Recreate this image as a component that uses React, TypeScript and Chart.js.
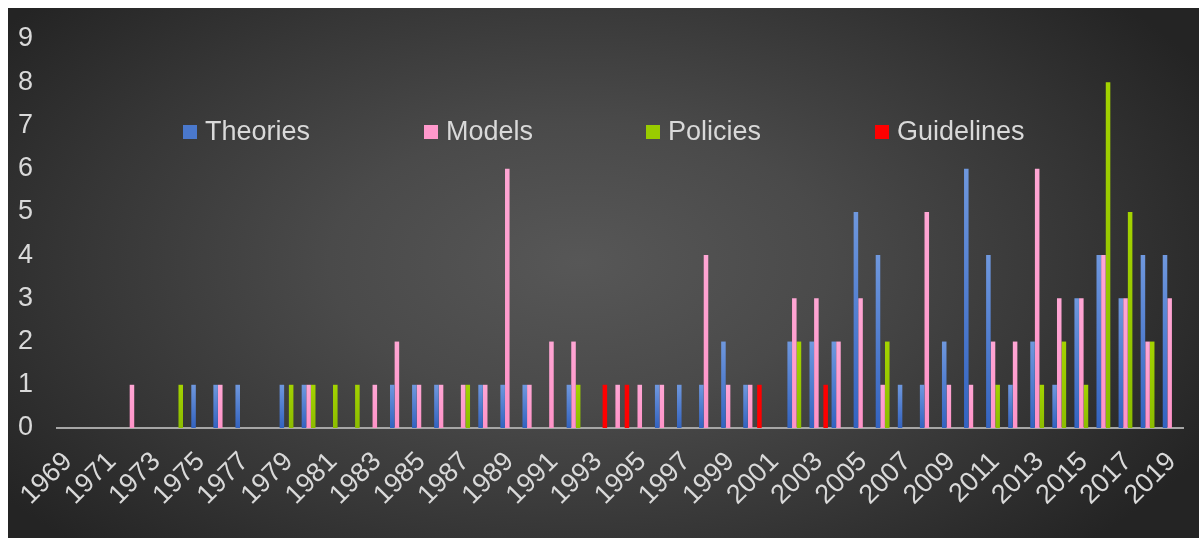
import React, { useEffect, useRef } from "react";
import { Chart, registerables } from "chart.js";

Chart.register(...registerables);

// Publication years, one category per year
const years: string[] = [];
for (let y = 1969; y <= 2019; y++) years.push(String(y));

// Counts per year, 1969 → 2019
const theories = [
  0, 0, 0, 0, 0, 0, 1, 1, 1, 0,
  1, 1, 0, 0, 0, 1, 1, 1, 0, 1,
  1, 1, 0, 1, 0, 0, 0, 1, 1, 1,
  2, 1, 0, 2, 2, 2, 5, 4, 1, 1,
  2, 6, 4, 1, 2, 1, 3, 4, 3, 4,
  4,
];
const models = [
  0, 0, 0, 1, 0, 0, 0, 1, 0, 0,
  0, 1, 0, 0, 1, 2, 1, 1, 1, 1,
  6, 1, 2, 2, 0, 1, 1, 1, 0, 4,
  1, 1, 0, 3, 3, 2, 3, 1, 0, 5,
  1, 1, 2, 2, 6, 3, 3, 4, 3, 2,
  3,
];
const policies = [
  0, 0, 0, 0, 0, 1, 0, 0, 0, 0,
  1, 1, 1, 1, 0, 0, 0, 0, 1, 0,
  0, 0, 0, 1, 0, 0, 0, 0, 0, 0,
  0, 0, 0, 2, 0, 0, 0, 2, 0, 0,
  0, 0, 1, 0, 1, 2, 1, 8, 5, 2,
  0,
];
const guidelines = [
  0, 0, 0, 0, 0, 0, 0, 0, 0, 0,
  0, 0, 0, 0, 0, 0, 0, 0, 0, 0,
  0, 0, 0, 0, 1, 1, 0, 0, 0, 0,
  0, 1, 0, 0, 1, 0, 0, 0, 0, 0,
  0, 0, 0, 0, 0, 0, 0, 0, 0, 0,
  0,
];

const yTicks = [0, 1, 2, 3, 4, 5, 6, 7, 8, 9];

const TEXT = "#d9d9d9";
const FONT = "'Liberation Sans', Arial, sans-serif";

// Vertical shading inside each bar: lighter at the top, deeper at the base
function shade(top: string, bottom: string) {
  return (c: any) => {
    const chart = c.chart;
    const area = chart.chartArea;
    const y = chart.scales && chart.scales.y;
    if (!area || !y || c.raw == null || !c.raw) return bottom;
    const y0 = y.getPixelForValue(0);
    const y1 = y.getPixelForValue(c.raw);
    if (!isFinite(y0) || !isFinite(y1) || y0 === y1) return bottom;
    const g = chart.ctx.createLinearGradient(0, y1, 0, y0);
    g.addColorStop(0, top);
    g.addColorStop(1, bottom);
    return g;
  };
}

// Legend drawn in a single row across the upper plot area
const legendRow = {
  id: "legendRow",
  afterDraw(chart: any) {
    const { ctx } = chart;
    const xs = [175, 416, 638, 867];
    const yMid = 124;
    ctx.save();
    ctx.font = `27px ${FONT}`;
    ctx.textBaseline = "middle";
    ctx.textAlign = "left";
    chart.data.datasets.forEach((ds: any, i: number) => {
      ctx.fillStyle = ds.legendColor;
      ctx.fillRect(xs[i], yMid - 7, 14, 14);
      ctx.fillStyle = TEXT;
      ctx.fillText(ds.label, xs[i] + 22, yMid + 1);
    });
    ctx.restore();
  },
};

export default function App() {
  const ref = useRef<HTMLCanvasElement | null>(null);

  useEffect(() => {
    if (!ref.current) return;
    const chart = new Chart(ref.current, {
      type: "bar",
      data: {
        labels: years,
        datasets: [
          {
            label: "Theories",
            data: theories,
            backgroundColor: shade("#6f98de", "#3363c0"),
            legendColor: "#4a78cc",
          } as any,
          {
            label: "Models",
            data: models,
            backgroundColor: shade("#ffa6d4", "#ff93c8"),
            legendColor: "#ff99cc",
          } as any,
          {
            label: "Policies",
            data: policies,
            backgroundColor: shade("#a3d300", "#8cbd00"),
            legendColor: "#99cc00",
          } as any,
          {
            label: "Guidelines",
            data: guidelines,
            backgroundColor: "#ff0000",
            legendColor: "#ff0000",
          } as any,
        ],
      },
      options: {
        animation: false,
        responsive: true,
        maintainAspectRatio: false,
        datasets: {
          bar: {
            categoryPercentage: 0.84,
            barPercentage: 0.98,
            borderWidth: 0,
          },
        },
        layout: { padding: { top: 31, right: 16, bottom: 0, left: 0 } },
        plugins: {
          legend: { display: false },
          tooltip: { enabled: false },
        },
        scales: {
          x: {
            grid: { display: false, drawTicks: false },
            border: { display: true, color: "#a6a6a6", width: 2 },
            ticks: {
              autoSkip: false,
              minRotation: 45,
              maxRotation: 45,
              padding: 18,
              color: TEXT,
              font: { family: FONT, size: 27 },
              callback: (_v: any, i: number) => (i % 2 === 0 ? years[i] : ""),
            },
            afterFit: (s: any) => {
              s.height = 110;
              s.paddingLeft = 0;
              s.paddingRight = 0;
            },
          },
          y: {
            min: 0,
            max: 9,
            afterBuildTicks: (s: any) => {
              s.ticks = yTicks.map((v) => ({ value: v }));
            },
            grid: { display: false, drawTicks: false },
            border: { display: false },
            ticks: {
              padding: 24,
              color: TEXT,
              font: { family: FONT, size: 27 },
            },
            afterFit: (s: any) => {
              s.width = 49;
              s.paddingTop = 0;
              s.paddingBottom = 0;
            },
          },
        },
      },
      plugins: [legendRow],
    });
    return () => chart.destroy();
  }, []);

  return (
    <div
      style={{
        position: "absolute",
        left: 8,
        top: 8,
        right: 0,
        bottom: 0,
        background:
          "radial-gradient(ellipse 60% 75% at 48% 48%, #575757 0%, #4a4a4a 35%, #363636 70%, #242424 100%)",
      }}
    >
      <canvas ref={ref} />
    </div>
  );
}
